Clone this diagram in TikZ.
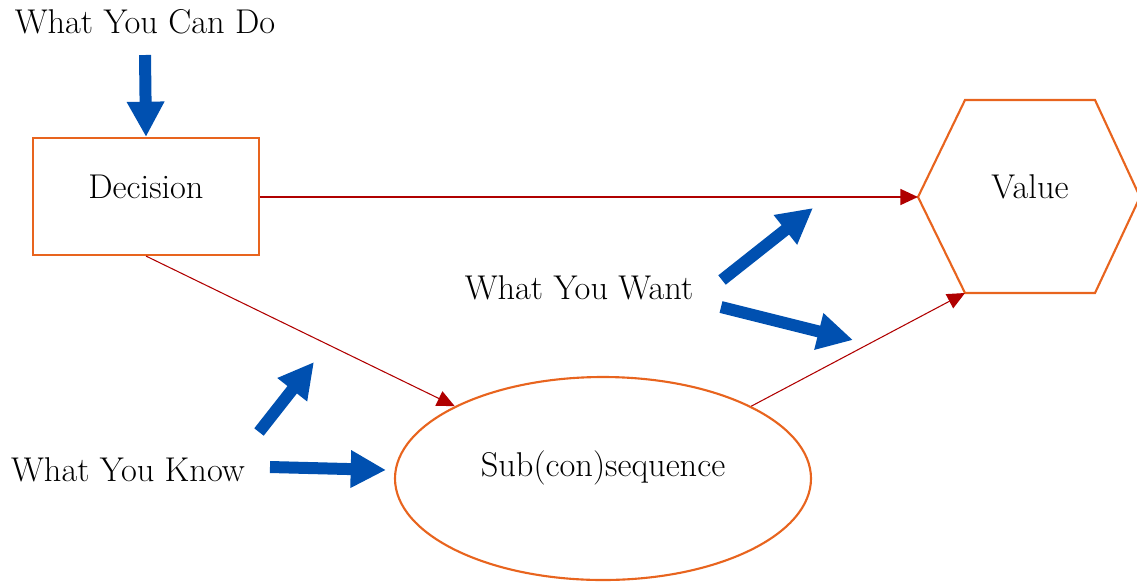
\documentclass[tikz,border=0pt]{standalone}
\usetikzlibrary{arrows.meta,shapes.geometric}
\definecolor{bblue}{HTML}{0050B0}
\definecolor{oorange}{HTML}{E8641E}
\definecolor{rred}{HTML}{B00000}
\begin{document}
\begin{tikzpicture}[x=0.567pt,y=-0.567pt,
  lbl/.style={font=\fontsize{19.5}{23}\selectfont, inner sep=0pt},
  bigarrow/.style={draw=bblue, line width=6.8pt, -{Triangle[width=20pt,length=20pt]}},
  redthick/.style={draw=rred, line width=1.1pt, -{Triangle[width=9pt,length=10pt]}},
  redthin/.style={draw=rred, line width=0.6pt, -{Triangle[width=9pt,length=10pt]}},
  orangeline/.style={draw=oorange, line width=1.2pt}]
\useasboundingbox (0,0) rectangle (1137,581);

% Decision box
\node[rectangle, orangeline, minimum width=226*0.567pt, minimum height=117*0.567pt, inner sep=0pt] (dec) at (146,196.5) {};
\node[lbl] (dect) at (146,187) {Decision};

% Value hexagon
\coordinate (hl) at (918,197);
\coordinate (htl) at (965,100);
\coordinate (htr) at (1095,100);
\coordinate (hr) at (1140,197);
\coordinate (hbr) at (1095,293);
\coordinate (hbl) at (965,293);
\draw[orangeline] (hl) -- (htl) -- (htr) -- (hr) -- (hbr) -- (hbl) -- cycle;
\node[lbl] (val) at (1030,187) {Value};

% Ellipse
\node[ellipse, orangeline, minimum width=416*0.567pt, minimum height=203*0.567pt, inner sep=0pt] (sub) at (603,478.5) {};
\node[lbl] (subt) at (603,468) {Sub(con)sequence};

% Labels
\node[lbl] (can) at (145,22) {What You Can Do};
\node[lbl] (want) at (579,288) {What You Want};
\node[lbl] (know) at (128,470) {What You Know};

% Red connectors
\draw[redthick] (dec.east |- hl) -- (hl);
\draw[redthin] (dec.south) -- (sub.154.5);
\draw[redthin] (sub.26) -- (hbl);

% Blue arrows
\coordinate (a1s) at (145,55);
\draw[bigarrow] (a1s) -- (dec.north);
\coordinate (w1s) at (722,280); \coordinate (w1e) at (813,208);
\draw[bigarrow] (w1s) -- (w1e);
\coordinate (w2s) at (721,307); \coordinate (w2e) at (853,340);
\draw[bigarrow] (w2s) -- (w2e);
\coordinate (k1s) at (259,432); \coordinate (k1e) at (314,362);
\draw[bigarrow] (k1s) -- (k1e);
\coordinate (k2s) at (270,467); \coordinate (k2e) at (386,470);
\draw[bigarrow] (k2s) -- (k2e);
\end{tikzpicture}
\end{document}
